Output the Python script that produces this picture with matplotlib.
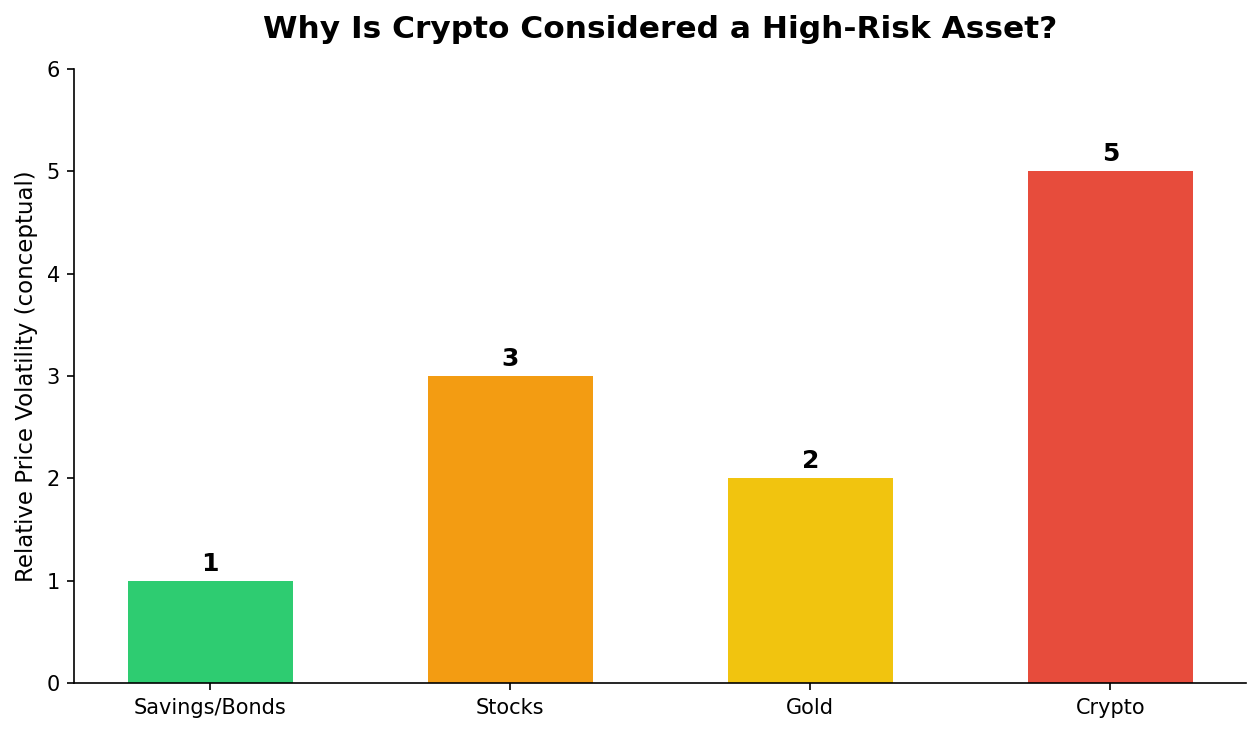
import matplotlib
matplotlib.use("Agg")
import matplotlib.pyplot as plt

# 数据
categories = ["Savings/Bonds", "Stocks", "Gold", "Crypto"]
volatility = [1, 3, 2, 5]
colors = ["#2ecc71", "#f39c12", "#f1c40f", "#e74c3c"]

fig, ax = plt.subplots(figsize=(8.4, 4.8867), dpi=150)
bars = ax.bar(categories, volatility, color=colors, width=0.55)

# 柱顶数值
for bar, v in zip(bars, volatility):
    ax.text(bar.get_x() + bar.get_width() / 2, v + 0.05, str(v),
            ha="center", va="bottom", fontsize=12, fontweight="bold")

ax.set_ylim(0, 6)
ax.set_ylabel("Relative Price Volatility (conceptual)", fontsize=11)
ax.set_title("Why Is Crypto Considered a High-Risk Asset?", fontsize=15,
             fontweight="bold", pad=15)
ax.tick_params(axis="both", labelsize=10)
ax.spines["top"].set_visible(False)
ax.spines["right"].set_visible(False)

fig.subplots_adjust(left=0.059, right=0.989, top=0.906, bottom=0.068)
fig.savefig("out.png", dpi=150)
